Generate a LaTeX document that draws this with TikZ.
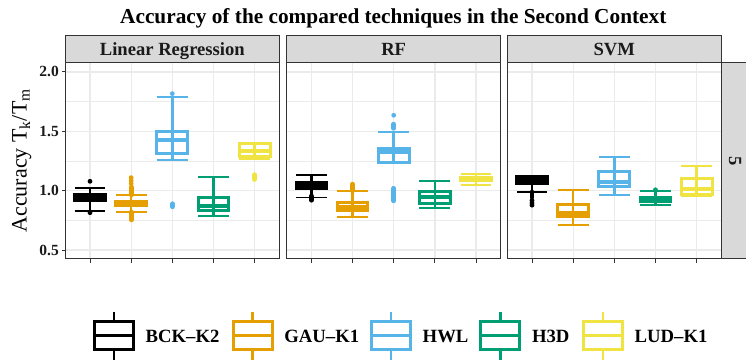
\documentclass[tikz,border=0pt]{standalone}
\usepackage{fontspec}
\setmainfont{Liberation Serif}
\definecolor{cBCK}{HTML}{000000}
\definecolor{cGAU}{HTML}{E69F00}
\definecolor{cHWL}{HTML}{56B4E9}
\definecolor{cHTD}{HTML}{009E73}
\definecolor{cLUD}{HTML}{F0E442}
\definecolor{gridc}{HTML}{EBEBEB}
\definecolor{framec}{HTML}{333333}
\definecolor{stripc}{HTML}{D9D9D9}
\definecolor{textc}{HTML}{1A1A1A}
\tikzset{
  boxline/.style={line width=3pt},
  medline/.style={line width=4pt},
  whiskline/.style={line width=2.6pt},
  capline/.style={line width=1.7pt},
  gridmajor/.style={draw=gridc,line width=1.3pt},
  gridminor/.style={draw=gridc,line width=0.7pt},
  panelframe/.style={draw=framec,line width=1pt},
  stripbox/.style={draw=framec,fill=stripc,line width=1pt},
  striptext/.style={text=textc,inner sep=0pt,anchor=base,font=\fontsize{18.6}{20}\selectfont\bfseries},
  ticktext/.style={text=textc,inner sep=0pt,anchor=east,font=\fontsize{15.5}{17}\selectfont\bfseries},
  legtext/.style={text=black,inner sep=0pt,anchor=base west,font=\fontsize{18.7}{20}\selectfont\bfseries},
  tickmark/.style={draw=framec,line width=1pt}
}
% #1 x, #2 colour, #3 low cap, #4 q1, #5 median, #6 q3, #7 high cap
\newcommand{\bplot}[7]{%
  \draw[capline,#2] (#1-15.4,#3) -- (#1+15.4,#3);
  \draw[capline,#2] (#1-15.4,#7) -- (#1+15.4,#7);
  \draw[whiskline,#2] (#1,#3) -- (#1,#7);
  \draw[boxline,#2] (#1-15.4,#4) rectangle (#1+15.4,#6);
  \draw[medline,#2] (#1-15.4,#5) -- (#1+15.4,#5);
}
\newcommand{\outdot}[3]{\fill[#2] (#1,#3) circle[radius=2.4pt];}
\newcommand{\ostrip}[4]{\draw[#2,line width=4.8pt,line cap=round] (#1,#3) -- (#1,#4);}
\newcommand{\legkey}[4]{%
  \draw[whiskline,#2] (#1,47.3) -- (#1,37.5);
  \draw[whiskline,#2] (#1,9.8) -- (#1,-3);
  \draw[boxline,#2] (#1-19.6,9.8) rectangle (#1+19.6,37.5);
  \draw[boxline,#2] (#1-19.6,23.3) -- (#1+19.6,23.3);
  \node[legtext] (#4) at (#1+31.5,16.7) {#3};
}
\begin{document}
\begin{tikzpicture}[x=1pt,y=1pt]
\useasboundingbox (0,0) rectangle (746,359);
\clip (0,0) rectangle (746,359);
\fill[white] (0,0) rectangle (746,359);

% title
\node[inner sep=0pt,anchor=base,text=black,font=\fontsize{21.3}{24}\selectfont\bfseries] (title) at (393.3,335.7)
  {Accuracy of the compared techniques in the Second Context};

% panels
\foreach \L/\lab in {65.3/Linear Regression,286.7/RF,507.3/SVM}{
  \begin{scope}[y=118.8pt,yshift=49.5pt]
    \foreach \v in {0.75,1.25,1.75}{\draw[gridminor] (\L,\v) -- (\L+214,\v);}
    \foreach \v in {0.5,1,1.5,2}{\draw[gridmajor] (\L,\v) -- (\L+214,\v);}
    \foreach \k in {0,1,2,3,4}{\draw[gridmajor] (\L+24.7+41.15*\k,0.4285) -- (\L+24.7+41.15*\k,2.0783);}
  \end{scope}
  \foreach \k in {0,1,2,3,4}{\draw[tickmark] (\L+24.7+41.15*\k,100.3) -- (\L+24.7+41.15*\k,96.3);}
  \draw[stripbox] (\L,296.3) rectangle (\L+214,323);
  \node[striptext] at (\L+107,303.3) {\lab};
}

\begin{scope}[y=118.8pt,yshift=49.5pt]
% Linear Regression
\bplot{90}{cBCK}{0.829}{0.915}{0.94}{0.965}{1.023}
\outdot{90}{cBCK}{1.079}\outdot{90}{cBCK}{0.815}
\bplot{131.15}{cGAU}{0.821}{0.873}{0.89}{0.909}{0.963}
\ostrip{131.15}{cGAU}{0.755}{0.82}\ostrip{131.15}{cGAU}{0.965}{1.03}
\outdot{131.15}{cGAU}{1.06}\outdot{131.15}{cGAU}{1.085}\outdot{131.15}{cGAU}{1.11}
\bplot{172.3}{cHWL}{1.261}{1.311}{1.423}{1.496}{1.791}
\outdot{172.3}{cHWL}{1.817}\ostrip{172.3}{cHWL}{0.865}{0.89}
\bplot{213.45}{cHTD}{0.787}{0.833}{0.870}{0.940}{1.115}
\bplot{254.6}{cLUD}{1.269}{1.288}{1.33}{1.397}{1.40}
\ostrip{254.6}{cLUD}{1.095}{1.135}
% RF
\bplot{311.4}{cBCK}{0.944}{1.016}{1.04}{1.066}{1.130}
\ostrip{311.4}{cBCK}{0.92}{0.955}
\bplot{352.55}{cGAU}{0.776}{0.833}{0.86}{0.898}{0.997}
\ostrip{352.55}{cGAU}{1.0}{1.055}
\bplot{393.7}{cHWL}{1.235}{1.24}{1.326}{1.355}{1.494}
\outdot{393.7}{cHWL}{1.635}\ostrip{393.7}{cHWL}{1.525}{1.56}\ostrip{393.7}{cHWL}{0.915}{1.02}
\bplot{434.85}{cHTD}{0.854}{0.89}{0.944}{0.991}{1.079}
\bplot{476}{cLUD}{1.05}{1.086}{1.10}{1.111}{1.143}
% SVM
\bplot{532}{cBCK}{0.989}{1.063}{1.09}{1.117}{1.12}
\ostrip{532}{cBCK}{0.945}{0.99}
\outdot{532}{cBCK}{0.918}\outdot{532}{cBCK}{0.897}\outdot{532}{cBCK}{0.878}
\bplot{573.15}{cGAU}{0.714}{0.785}{0.81}{0.881}{1.008}
\bplot{614.3}{cHWL}{0.961}{1.033}{1.075}{1.162}{1.284}
\bplot{655.45}{cHTD}{0.882}{0.909}{0.925}{0.94}{0.995}
\outdot{655.45}{cHTD}{1.008}
\bplot{696.6}{cLUD}{0.955}{0.968}{1.014}{1.105}{1.208}
% y ticks
\foreach \v in {0.5,1.0,1.5,2.0}{
  \draw[tickmark] (62,\v) -- (65.3,\v);
  \node[ticktext] at (59,\v) {\v};
}
\end{scope}

% panel frames
\foreach \L in {65.3,286.7,507.3}{\draw[panelframe] (\L,100.3) rectangle (\L+214,296.3);}

% right strip
\draw[stripbox] (721.3,100.3) rectangle (750,296.3);
\node[inner sep=0pt,rotate=-90,text=textc,font=\fontsize{18.6}{20}\selectfont\bfseries] (facet) at (735,198.3) {5};

% y axis title
\node[inner sep=0pt,anchor=base,rotate=90,text=black,font=\fontsize{22}{24}\selectfont] (ytitle) at (26.5,198.3)
  {Accuracy T\textsubscript{k}/T\textsubscript{m}};

% legend
\legkey{114}{cBCK}{BCK–K2}{lgA}
\legkey{252.7}{cGAU}{GAU–K1}{lgB}
\legkey{391}{cHWL}{HWL}{lgC}
\legkey{500.3}{cHTD}{H3D}{lgD}
\legkey{603}{cLUD}{LUD–K1}{lgE}
\end{tikzpicture}
\end{document}
